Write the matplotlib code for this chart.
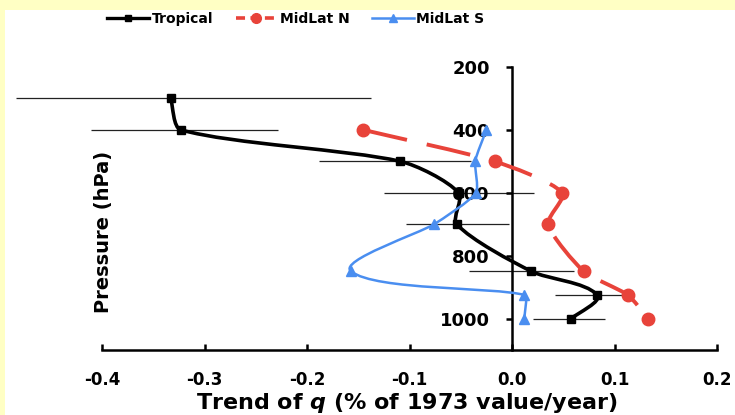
import numpy as np
import matplotlib
matplotlib.use('Agg')
import matplotlib.pyplot as plt
from matplotlib.path import Path
from matplotlib.patches import PathPatch, Rectangle
from matplotlib.lines import Line2D

plt.rcParams['font.family'] = 'DejaVu Sans'
plt.rcParams['font.weight'] = 'bold'
plt.rcParams['mathtext.fontset'] = 'custom'
plt.rcParams['mathtext.it'] = 'DejaVu Sans:bold:italic'

# data
pressure = [300, 400, 500, 600, 700, 850, 925, 1000]
tropical = [-0.333, -0.323, -0.109, -0.052, -0.054, 0.019, 0.083, 0.058]
trop_err_left = [0.151, 0.088, 0.079, 0.073, 0.049, 0.061, 0.041, 0.038]
trop_err_right = [0.195, 0.095, 0.069, 0.073, 0.051, 0.041, 0.030, 0.033]

p_north = [400, 500, 600, 700, 850, 925, 1000]
midlat_n = [-0.145, -0.017, 0.049, 0.035, 0.070, 0.113, 0.133]

p_south = [400, 500, 600, 700, 850, 925, 1000]
midlat_s = [-0.025, -0.036, -0.035, -0.076, -0.157, 0.012, 0.012]

x_ticks = [-0.4, -0.3, -0.2, -0.1, 0.0, 0.1, 0.2]
x_tick_labels = ['-0.4', '-0.3', '-0.2', '-0.1', '0.0', '0.1', '0.2']
y_ticks = [200, 400, 600, 800, 1000]

BLACK = '#000000'
RED = '#E8433A'
BLUE = '#4A8EF0'
W, H = 735, 415


def smooth_path(ax, xs, ys, k=0.2):
    # excel-like smoothed line; tangents scaled by segment length, in screen space
    pts = ax.transData.transform(np.column_stack([xs, ys]))
    n = len(pts)
    verts = [pts[0]]
    codes = [Path.MOVETO]
    for i in range(n - 1):
        p0 = pts[max(i - 1, 0)]
        p1 = pts[i]
        p2 = pts[i + 1]
        p3 = pts[min(i + 2, n - 1)]
        seg = np.linalg.norm(p2 - p1)
        d1 = (p2 - p0) / np.linalg.norm(p2 - p0)
        d2 = (p3 - p1) / np.linalg.norm(p3 - p1)
        verts += [p1 + d1 * seg * k, p2 - d2 * seg * k, p2]
        codes += [Path.CURVE4] * 3
    verts = ax.transData.inverted().transform(np.array(verts))
    return Path(verts, codes)


fig = plt.figure(figsize=(W / 100, H / 100), dpi=100, facecolor='#FFFFC4')
fig.patches.append(Rectangle((5 / W, 0), 1, (H - 10) / H, transform=fig.transFigure,
                             facecolor='white', edgecolor='none', zorder=-5))

ax = fig.add_axes([102 / W, 65 / H, 615 / W, 283 / H])
ax.set_facecolor('none')
ax.set_zorder(2)
ax.set_xlim(-0.4, 0.2)
ax.set_ylim(1100, 200)

left = np.array(tropical) - np.array(trop_err_left)
right = np.array(tropical) + np.array(trop_err_right)
ax.hlines(pressure, left, right, color='#222222', lw=0.9, zorder=1, clip_on=False)

ax.add_patch(PathPatch(smooth_path(ax, tropical, pressure, k=0.25), facecolor='none',
                       edgecolor=BLACK, lw=2.6, zorder=3))
ax.plot(tropical, pressure, ls='none', marker='s', ms=6, color=BLACK, zorder=4)

ax.add_patch(PathPatch(smooth_path(ax, midlat_n, p_north), facecolor='none',
                       edgecolor=RED, lw=2.8, linestyle=(0, (11.5, 5.2)), zorder=3))
ax.plot(midlat_n, p_north, ls='none', marker='o', ms=9, color=RED, zorder=4)

ax.add_patch(PathPatch(smooth_path(ax, midlat_s, p_south, k=0.18), facecolor='none',
                       edgecolor=BLUE, lw=1.8, zorder=3))
ax.plot(midlat_s, p_south, ls='none', marker='^', ms=7, color=BLUE, zorder=4)

for s in ['top', 'right']:
    ax.spines[s].set_visible(False)
ax.spines['left'].set_position(('data', 0))
ax.spines['left'].set_linewidth(1.8)
ax.spines['bottom'].set_linewidth(1.8)

ax.set_xticks(x_ticks)
ax.set_xticklabels(x_tick_labels)
ax.set_yticks(y_ticks)
ax.tick_params(axis='x', direction='in', length=4, width=1.8, pad=15, labelsize=12)
ax.tick_params(axis='y', direction='out', length=4, width=1.8, pad=12, labelsize=13)
for lab in ax.get_xticklabels() + ax.get_yticklabels():
    lab.set_fontweight('bold')

fig.text(103 / W, 1 - 232 / H, 'Pressure (hPa)', rotation=90, ha='center', va='center',
         fontsize=14, fontweight='bold')
fig.text(407 / W, 1 - 403 / H, r'Trend of $\it{q}$ (% of 1973 value/year)',
         ha='center', va='center', fontsize=16, fontweight='bold')

handles = [
    Line2D([], [], color=BLACK, lw=2.4, marker='s', ms=5),
    Line2D([], [], color=RED, lw=2.6, ls=(0, (2.5, 1.5)), marker='o', ms=7),
    Line2D([], [], color=BLUE, lw=1.8, marker='^', ms=6),
]
fig.legend(handles, ['Tropical', 'MidLat N', 'MidLat S'], ncol=3, loc='center',
           bbox_to_anchor=(296 / W, 1 - 19 / H), frameon=False, fontsize=10,
           handlelength=3.0, handletextpad=0.2, columnspacing=1.6)

fig.savefig('out.png', dpi=100, facecolor=fig.get_facecolor())
